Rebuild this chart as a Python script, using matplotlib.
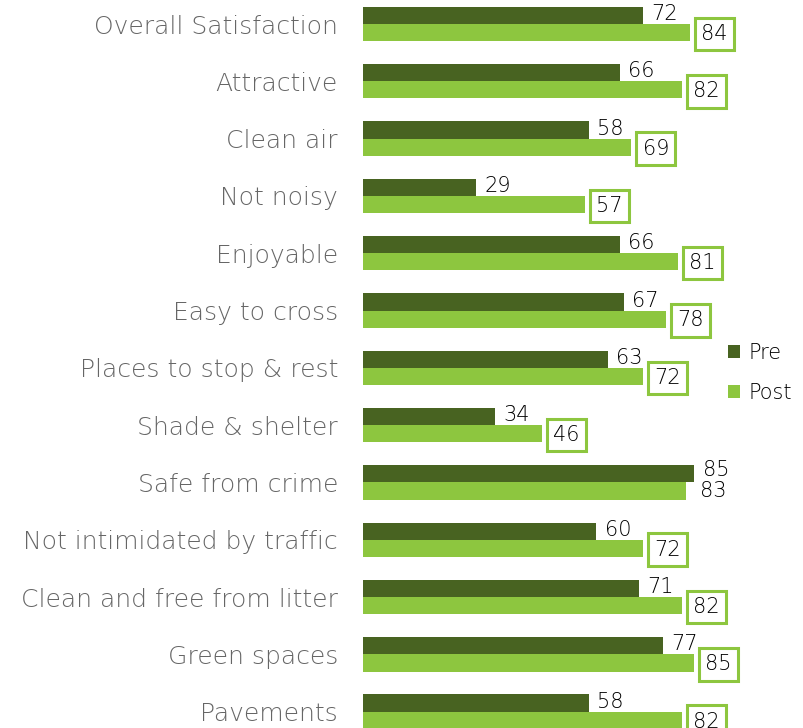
import matplotlib
matplotlib.use("Agg")
import matplotlib.pyplot as plt
import numpy as np

categories = ["Overall Satisfaction", "Attractive", "Clean air", "Not noisy",
              "Enjoyable", "Easy to cross", "Places to stop & rest",
              "Shade & shelter", "Safe from crime", "Not intimidated by traffic",
              "Clean and free from litter", "Green spaces", "Pavements"]
pre = [72, 66, 58, 29, 66, 67, 63, 34, 85, 60, 71, 77, 58]
post = [84, 82, 69, 57, 81, 78, 72, 46, 83, 72, 82, 85, 82]
# post values shown in a box (significant change)
boxed = [True, True, True, True, True, True, True, True, False, True, True, True, True]

dark = "#486321"
light = "#8DC63F"
plt.rcParams['font.family'] = ['DejaVu Sans']

fig = plt.figure(figsize=(8.04, 7.28), dpi=100)
ax = fig.add_axes([363 / 804, 0, 389 / 804, 1])

y = np.arange(len(categories))
h = 0.3
ax.barh(y - h / 2, pre, height=h, color=dark, label="Pre")
ax.barh(y + h / 2, post, height=h, color=light, label="Post")

num_fs = 15
for i in range(len(categories)):
    if boxed[i]:
        ax.annotate(str(pre[i]), xy=(pre[i], i - h / 2), xytext=(6, 1),
                    textcoords="offset points", ha="left", va="center",
                    fontsize=num_fs, color="black", fontweight="light")
        ax.annotate(str(post[i]), xy=(post[i], i + h / 2), xytext=(8, -1),
                    textcoords="offset points", ha="left", va="center",
                    fontsize=num_fs, color="black", fontweight="light",
                    bbox=dict(boxstyle="square,pad=0.3", fc="white", ec=light, lw=2.2))
    else:
        ax.annotate(str(pre[i]), xy=(pre[i], i - h / 2), xytext=(7, 3),
                    textcoords="offset points", ha="left", va="center",
                    fontsize=num_fs, color="black", fontweight="light")
        ax.annotate(str(post[i]), xy=(post[i], i + h / 2), xytext=(10, 0),
                    textcoords="offset points", ha="left", va="center",
                    fontsize=num_fs, color="black", fontweight="light")

ax.set_xlim(0, 100)
ax.set_ylim(12.286, -0.419)
ax.set_yticks(y)
ax.set_yticklabels(categories, fontsize=18, color="#666666", fontweight="light")
ax.tick_params(axis="y", length=0, pad=18)
ax.set_xticks([])
for s in ax.spines.values():
    s.set_visible(False)

leg = ax.legend(loc="center left", bbox_to_anchor=(346 / 389, 0.488), frameon=False,
                prop={"size": 15, "weight": "light"}, handlelength=0.6, handleheight=0.6,
                handletextpad=0.4, labelspacing=0.95)

fig.savefig("out.png", dpi=100)
